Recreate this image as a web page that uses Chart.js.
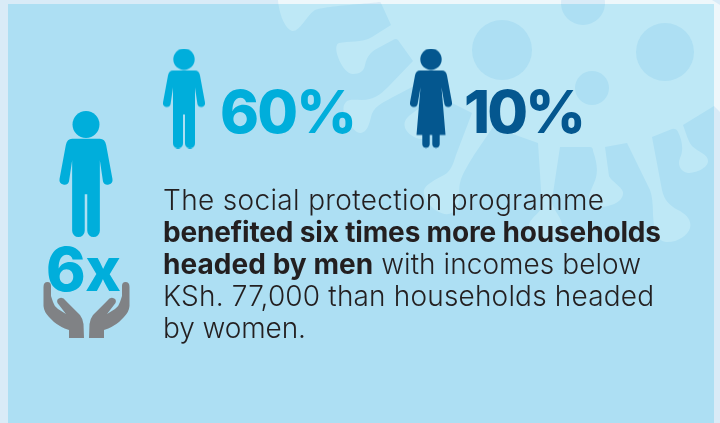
<!DOCTYPE html>
<html>
<head>
<meta charset="utf-8">
<style>
html,body{margin:0;padding:0;background:#d9ebf7;}
canvas{display:block;}
</style>
<script src="https://cdn.jsdelivr.net/npm/chart.js@4"></script>
</head>
<body>
<canvas id="chart" width="720" height="423"></canvas>
<script>
// Values shown in the graphic
const categories = ['Households headed by men', 'Households headed by women'];
const shares = [60, 10];
const multiples = [6];

// Paragraph text, one entry per line, with bold runs flagged
const paragraph = [
  [['The social protection programme', false]],
  [['benefited six times more households', true]],
  [['headed by men', true], [' with incomes below', false]],
  [['KSh. 77,000 than households headed', false]],
  [['by women.', false]]
];

// Page layout, in canvas pixels
const layout = {
  figureX: [184, 431], figureY: 98.5,
  bigFigureX: 86, bigFigureY: 174,
  handsX: 86.5, handsY: 310.5,
  shareLabelX: [220, 464], shareLabelRight: [357, 586], shareLabelBase: 133,
  multipleX: 46, multipleRight: 121, multipleBase: 291,
  textX: 163, textRight: [604, 661, 641, 654, 306], textBase: [210, 242, 274, 306, 338]
};

const colours = {
  outer: '#d9ebf7', outerVirus: '#eef7fb',
  panel: '#addff3', virus: '#bee8f6',
  men: '#00aedb', women: '#04578f', hands: '#808285', text: '#231f20'
};

// Silhouettes are defined on a 100-unit tall figure, centred on x = 0
const manBody = new Path2D('M-11 22H11Q15 22 16 27L21 54A3.9 3.9 0 0 1 13.5 56L11 39V95A5 5 0 0 1 1 95V66H-1V95A5 5 0 0 1-11 95V39L-13.5 56A3.9 3.9 0 0 1-21 54L-16 27Q-15 22-11 22Z');
const womanBody = new Path2D('M-11 22H11Q15 22 16 27L21 54A3.9 3.9 0 0 1 13.5 56L10.5 39L14.5 86.5H8.7V95.5A3.7 3.7 0 0 1 1.3 95.5V86.5H-1.3V95.5A3.7 3.7 0 0 1-8.7 95.5V86.5H-14.5L-10.5 39L-13.5 56A3.9 3.9 0 0 1-21 54L-16 27Q-15 22-11 22Z');
const handShape = new Path2D('M47.5 282Q43.5 282 43.5 287L43.5 306Q44 312 49 317L54 322Q60 327 69 330V338H84L83.5 324Q83 319 80 315L66 301Q63 297 60 298Q56 299 57.5 303L66 314L58 309Q54 306 53 302L51 296V286Q51 282 47.5 282Z');

function figureIcon(body, colour, scale) {
  const c = document.createElement('canvas');
  c.width = Math.ceil(46 * scale);
  c.height = Math.ceil(100 * scale);
  const g = c.getContext('2d');
  g.translate(c.width / 2, 0);
  g.scale(scale, scale);
  g.fillStyle = colour;
  g.beginPath();
  g.arc(0, 10.7, 10.7, 0, Math.PI * 2);
  g.fill();
  g.fill(body);
  return c;
}

function handsIcon(colour) {
  const c = document.createElement('canvas');
  c.width = 87;
  c.height = 57;
  const g = c.getContext('2d');
  g.fillStyle = colour;
  g.translate(-43, -282);
  g.fill(handShape);
  g.setTransform(-1, 0, 0, 1, 130, -282);
  g.fill(handShape);
  return c;
}

// The virus motif: outline of the pale body, its spikes ending in rounded tips
const virusOutline = new Path2D(
  'M278 0C279 14 285 29 292 31C300 32 306 16 315 10C325 6 365 4 379 2Q381 2 381 3L391 25L372 37C362 43 348 41 339 43' +
  'C335 44 336 52 338 57C342 68 348 74 353 74C360 74 364 71 365 65C367 55 372 51 380 47L393 40Q396 38 398 40L413 61L388 87' +
  'C380 95 373 100 362 100C354 100 349 99 346 102C342 106 343 113 347 120C351 127 357 134 361 133C367 132 369 125 371 117' +
  'C373 107 382 103 393 97L418 84L428 96C424 108 412 112 407 118C402 124 405 131 411 135C418 140 425 141 432 134L440 97L472 113' +
  'L456 155C453 165 450 172 444 175C435 180 426 184 424 190C422 197 430 207 437 211C445 216 453 215 457 208C461 200 458 192 460 183' +
  'C462 174 468 165 474 155L493 127L538 143L542 205C542 212 532 216 529 224C527 232 532 240 545 240C558 240 564 232 562 224' +
  'C560 214 552 210 552 200L560 147L590 147Q593 147 593 151C598 165 598 175 594 183C591 190 588 196 589 201C591 207 600 208 608 206' +
  'C618 204 624 198 623 192C621 186 612 182 609 176L605 147L627 143L650 190Q653 198 653 215C654 232 657 241 666 242C676 243 688 236 690 228' +
  'C692 220 686 214 678 210C670 206 664 200 662 190L652 137L672 129Q676 128 678 132C682 140 684 150 680 158C677 165 681 172 688 173' +
  'C696 173 708 168 708 161C708 154 698 152 692 146C688 141 686 133 683 125L714 106L720 112V5L712 0Z'
);
const virusCircles = [[502, 50, 30], [665, 52, 29], [592, 88, 17], [583, 3, 22]];

function paintVirus(ctx, body, spots) {
  ctx.fillStyle = body;
  ctx.fill(virusOutline);
  ctx.fillStyle = spots;
  for (const [x, y, r] of virusCircles) {
    ctx.beginPath();
    ctx.arc(x, y, r, 0, Math.PI * 2);
    ctx.fill();
  }
}

// Writes a line of mixed-weight runs, spacing the letters so it spans from x to right
function writeLine(ctx, runs, x, right, base, size, colour, lightWeight, boldWeight) {
  const fontFor = bold => `${bold ? boldWeight : lightWeight} ${size}px Inter, sans-serif`;
  ctx.letterSpacing = '0px';
  let natural = 0, count = 0;
  for (const [text, bold] of runs) {
    ctx.font = fontFor(bold);
    natural += ctx.measureText(text).width;
    count += text.length;
  }
  const spacing = (right - x - natural) / (count - 1);
  ctx.letterSpacing = spacing.toFixed(3) + 'px';
  ctx.fillStyle = colour;
  ctx.textAlign = 'left';
  ctx.textBaseline = 'alphabetic';
  let cursor = x;
  for (const [text, bold] of runs) {
    ctx.font = fontFor(bold);
    ctx.fillText(text, cursor, base);
    cursor += ctx.measureText(text).width;
  }
  ctx.letterSpacing = '0px';
}

const backdrop = {
  id: 'backdrop',
  beforeDraw(chart) {
    const ctx = chart.ctx;
    ctx.save();
    ctx.fillStyle = colours.outer;
    ctx.fillRect(0, 0, 720, 423);
    paintVirus(ctx, colours.outerVirus, colours.outer);
    ctx.beginPath();
    ctx.rect(8, 4, 706, 419);
    ctx.clip();
    ctx.fillStyle = colours.panel;
    ctx.fillRect(8, 4, 706, 419);
    paintVirus(ctx, colours.virus, colours.panel);
    ctx.restore();
  }
};

const captions = {
  id: 'captions',
  afterDatasetsDraw(chart) {
    const ctx = chart.ctx;
    ctx.save();
    shares.forEach((share, i) => {
      writeLine(ctx, [[share + '%', true]], layout.shareLabelX[i], layout.shareLabelRight[i],
        layout.shareLabelBase, 59, i === 0 ? colours.men : colours.women, 800, 800);
    });
    writeLine(ctx, [[multiples[0] + 'x', true]], layout.multipleX, layout.multipleRight,
      layout.multipleBase, 60, colours.men, 800, 800);
    paragraph.forEach((runs, i) => {
      writeLine(ctx, runs, layout.textX, layout.textRight[i], layout.textBase[i], 28, colours.text, 300, 700);
    });
    ctx.restore();
  }
};

new Chart(document.getElementById('chart'), {
  type: 'scatter',
  data: {
    datasets: [
      {
        label: categories[0],
        data: [
          { x: layout.figureX[0], y: layout.figureY, share: shares[0] },
          { x: layout.bigFigureX, y: layout.bigFigureY, multiple: multiples[0] }
        ],
        pointStyle: [figureIcon(manBody, colours.men, 1), figureIcon(manBody, colours.men, 1.26)]
      },
      {
        label: categories[1],
        data: [{ x: layout.figureX[1], y: layout.figureY, share: shares[1] }],
        pointStyle: figureIcon(womanBody, colours.women, 1)
      },
      {
        label: 'Benefit multiple',
        data: [{ x: layout.handsX, y: layout.handsY, multiple: multiples[0] }],
        pointStyle: handsIcon(colours.hands)
      }
    ]
  },
  options: {
    responsive: false,
    animation: false,
    layout: { padding: 0, autoPadding: false },
    events: [],
    plugins: { legend: { display: false }, tooltip: { enabled: false }, title: { display: false } },
    scales: {
      x: { type: 'linear', display: false, min: 0, max: 720 },
      y: { type: 'linear', display: false, min: 0, max: 423, reverse: true }
    }
  },
  plugins: [backdrop, captions]
});
</script>
</body>
</html>
